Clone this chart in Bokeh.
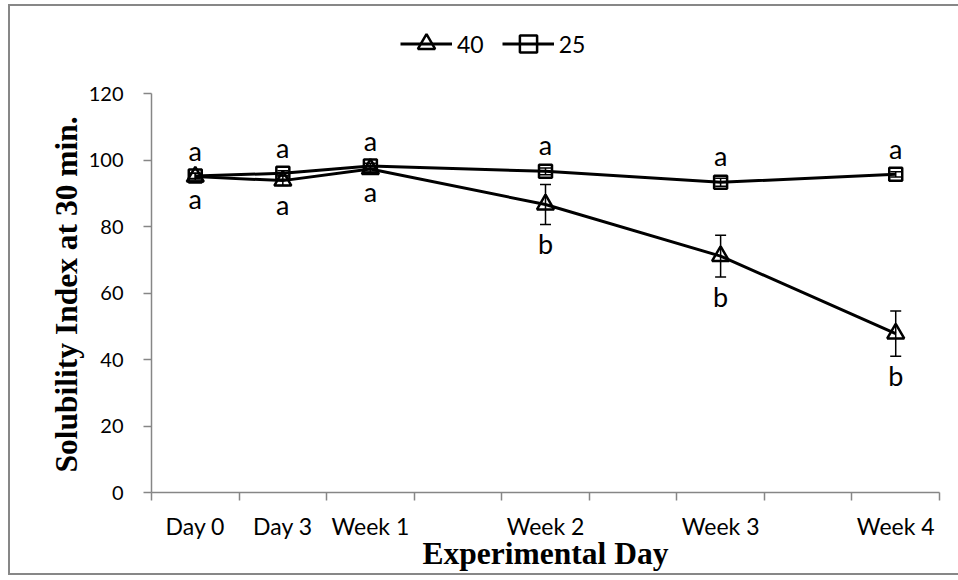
from bokeh.plotting import figure
from bokeh.models import (Range1d, FixedTicker, Legend, LegendItem,
                          ColumnDataSource, Whisker, Title)
from bokeh.core.properties import value
from bokeh.embed import file_html
from bokeh.resources import INLINE

# ---------------- data ----------------
categories = ["Day 0", "Day 3", "Week 1", "", "Week 2", "", "Week 3", "", "Week 4"]
sample_days = ["Day 0", "Day 3", "Week 1", "Week 2", "Week 3", "Week 4"]

series_40 = [95.0, 93.8, 97.3, 86.6, 71.1, 47.8]
error_40 = [1.0, 1.5, 1.0, 6.0, 6.3, 6.8]
letters_40 = ["a", "a", "a", "b", "b", "b"]

series_25 = [95.2, 96.0, 98.2, 96.6, 93.3, 95.7]
error_25 = [0.8, 0.8, 0.8, 1.0, 1.2, 0.8]
letters_25 = ["a", "a", "a", "a", "a", "a"]

y_ticks = [0, 20, 40, 60, 80, 100, 120]

# ---------------- build ----------------
xpos = [categories.index(d) for d in sample_days]

src40 = ColumnDataSource(dict(
    x=xpos, y=series_40,
    upper=[v + e for v, e in zip(series_40, error_40)],
    lower=[v - e for v, e in zip(series_40, error_40)],
    lab=letters_40))
src25 = ColumnDataSource(dict(
    x=xpos, y=series_25,
    upper=[v + e for v, e in zip(series_25, error_25)],
    lower=[v - e for v, e in zip(series_25, error_25)],
    lab=letters_25))

BLACK = "#000000"
GRAY = "#868686"
TICK_FONT = "Lato"
TITLE_FONT = "Liberation Serif"

# layout (pixels)
FIG_W, FIG_H = 950, 571
MB_LEFT, MB_RIGHT, MB_TOP, MB_BOTTOM = 141, 21, 15, 85
AXIS_PX = 399             # pixel height of the 0..120 scale
frame_h = FIG_H - MB_TOP - MB_BOTTOM
y_top = y_ticks[-1] * frame_h / AXIS_PX   # room above 120 for the legend

p = figure(width=FIG_W, height=FIG_H, output_backend="svg", toolbar_location=None,
           x_range=Range1d(-0.5, len(categories) - 0.5),
           y_range=Range1d(y_ticks[0], y_top),
           min_border_left=MB_LEFT, min_border_right=MB_RIGHT,
           min_border_top=MB_TOP, min_border_bottom=MB_BOTTOM)
p.styles = {"margin-left": "8px", "margin-top": "4px",
            "border-left": "2px solid #878787",
            "border-top": "2px solid #878787",
            "border-bottom": "2px solid #878787"}

p.background_fill_color = "white"
p.border_fill_color = "white"
p.outline_line_color = None
p.xgrid.visible = False
p.ygrid.visible = False

# error bars
for src in (src40, src25):
    w = Whisker(source=src, base="x", upper="upper", lower="lower",
                line_color=BLACK, line_width=1.5)
    w.upper_head.size = 11
    w.lower_head.size = 11
    w.upper_head.line_color = BLACK
    w.lower_head.line_color = BLACK
    w.upper_head.line_width = 1.5
    w.lower_head.line_width = 1.5
    p.add_layout(w)

l40 = p.line("x", "y", source=src40, line_color=BLACK, line_width=3)
m40 = p.scatter("x", "y", source=src40, marker="triangle", size=17,
                fill_alpha=0, line_color=BLACK, line_width=2.5)
l25 = p.line("x", "y", source=src25, line_color=BLACK, line_width=3)
m25 = p.scatter("x", "y", source=src25, marker="square", size=13,
                fill_alpha=0, line_color=BLACK, line_width=2.5)

# significance letters
p.text("x", "lower", text="lab", source=src40, text_font=value(TICK_FONT),
       text_font_size="27px", text_align="center", text_baseline="middle",
       y_offset=19, text_color=BLACK)
p.text("x", "upper", text="lab", source=src25, text_font=value(TICK_FONT),
       text_font_size="27px", text_align="center", text_baseline="middle",
       y_offset=-23, text_color=BLACK)

# axes
xa = p.xaxis[0]
xa.ticker = FixedTicker(ticks=xpos,
                        minor_ticks=[i - 0.5 for i in range(len(categories) + 1)])
xa.major_label_overrides = {i: c for i, c in enumerate(categories) if c}
xa.major_tick_out = 0
xa.major_tick_in = 0
xa.minor_tick_out = 8
xa.minor_tick_in = 0
xa.minor_tick_line_color = GRAY
xa.minor_tick_line_width = 1.5
xa.axis_line_color = GRAY
xa.axis_line_width = 1.5
xa.major_label_text_font = TICK_FONT
xa.major_label_text_font_size = "23px"
xa.major_label_text_color = BLACK
xa.major_label_standoff = 11
xa.axis_label = "Experimental Day"
xa.axis_label_text_font = TITLE_FONT
xa.axis_label_text_font_style = "bold"
xa.axis_label_text_font_size = "31.5px"
xa.axis_label_text_color = BLACK
xa.axis_label_standoff = -7

ya = p.yaxis[0]
ya.ticker = FixedTicker(ticks=y_ticks, minor_ticks=[])
ya.bounds = (y_ticks[0], y_ticks[-1])
ya.major_tick_out = 8
ya.major_tick_in = 0
ya.major_tick_line_color = GRAY
ya.major_tick_line_width = 1.5
ya.axis_line_color = GRAY
ya.axis_line_width = 1.5
ya.major_label_text_font = TICK_FONT
ya.major_label_text_font_size = "20px"
ya.major_label_text_color = BLACK
ya.major_label_standoff = 20

ytitle = Title(text="Solubility Index at 30 min.", align="left",
               offset=20, standoff=4,
               text_font=TITLE_FONT, text_font_style="bold",
               text_font_size="31.5px", text_color=BLACK)
p.add_layout(ytitle, "left")

legend = Legend(items=[LegendItem(label="40", renderers=[l40, m40]),
                       LegendItem(label="25", renderers=[l25, m25])],
                orientation="horizontal", location=(249, 427),
                glyph_width=52, glyph_height=43, label_standoff=5, spacing=18,
                padding=0, margin=0, border_line_color=None,
                background_fill_alpha=0,
                label_text_font=TICK_FONT, label_text_font_size="23px",
                label_text_color=BLACK)
p.add_layout(legend)

open("out.html", "w").write(file_html(p, INLINE))
